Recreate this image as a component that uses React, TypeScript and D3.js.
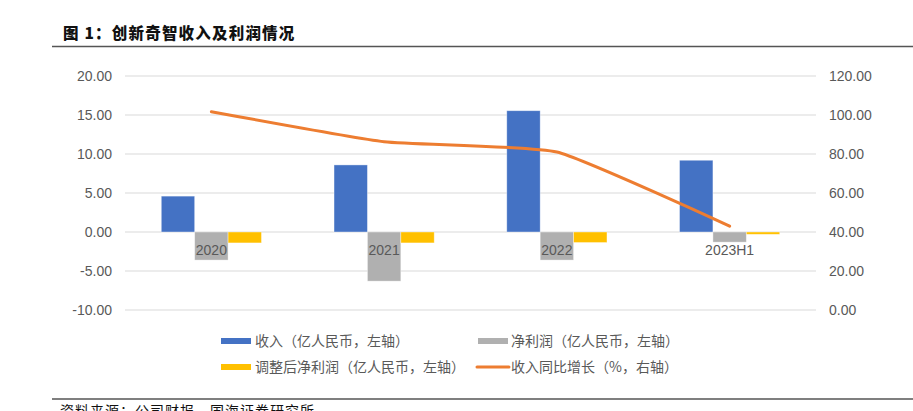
import React from "react";
import * as d3 from "d3";

// categories and values
const categories = ["2020", "2021", "2022", "2023H1"];
const revenue = [4.6, 8.6, 15.55, 9.2]; // 收入（亿人民币，左轴）
const netProfit = [-3.6, -6.3, -3.6, -1.3]; // 净利润
const adjNetProfit = [-1.4, -1.4, -1.35, -0.3]; // 调整后净利润
const revenueGrowth = [101.7, 86.3, 81, 43]; // 收入同比增长（%，右轴）

const leftTicks = [20, 15, 10, 5, 0, -5, -10];
const rightTicks = [120, 100, 80, 60, 40, 20, 0];

const barSeries = [
  { key: "revenue", values: revenue, color: "#4472C4" },
  { key: "net", values: netProfit, color: "#B0B0B0" },
  { key: "adj", values: adjNetProfit, color: "#FFC000" },
];

const width = 913,
  height = 411;
const plot = { left: 125, right: 816, top: 76, bottom: 310 };

const font = "'Liberation Sans', Arial, 'Noto Sans CJK SC', sans-serif";
const cjk = "'Noto Sans CJK SC', 'Liberation Sans', sans-serif";

const App: React.FC = () => {
  const x0 = d3
    .scaleBand<string>()
    .domain(categories)
    .range([plot.left, plot.right])
    .padding(0);
  const step = x0.bandwidth();
  const x1 = d3
    .scaleBand<string>()
    .domain(barSeries.map((s) => s.key))
    .range([step * 0.21, step * 0.79])
    .padding(0);

  const yL = d3.scaleLinear().domain([-10, 20]).range([plot.bottom, plot.top]);
  const yR = d3.scaleLinear().domain([0, 120]).range([plot.bottom, plot.top]);

  // excel-ish smoothed line, not too loose
  const line = d3
    .line<number>()
    .x((_, i) => x0(categories[i])! + step / 2)
    .y((d) => yR(d))
    .curve(d3.curveCardinal.tension(0.55));

  const labelColor = "#595959";

  return (
    <svg
      width={width}
      height={height}
      style={{ position: "absolute", left: 0, top: 0, background: "#fff" }}
    >
      {/* title */}
      <text
        x={63}
        y={39}
        fontFamily={cjk}
        fontWeight="900"
        fontSize={15.5}
        letterSpacing={1.2}
        fill="#111"
      >
        图 1：创新奇智收入及利润情况
      </text>
      <line x1={52} x2={width} y1={46.5} y2={46.5} stroke="#555" strokeWidth={1.5} />

      {/* gridlines */}
      {leftTicks.map((t) => (
        <line
          key={t}
          x1={plot.left}
          x2={plot.right}
          y1={yL(t)}
          y2={yL(t)}
          stroke="#D9D9D9"
          strokeWidth={1}
        />
      ))}

      {/* left axis labels */}
      {leftTicks.map((t) => (
        <text
          key={t}
          x={112}
          y={yL(t)}
          dy="0.35em"
          textAnchor="end"
          fontFamily={font}
          fontSize={14}
          fill={labelColor}
        >
          {t.toFixed(2)}
        </text>
      ))}

      {/* right axis labels */}
      {rightTicks.map((t) => (
        <text
          key={t}
          x={829}
          y={yR(t)}
          dy="0.35em"
          textAnchor="start"
          fontFamily={font}
          fontSize={14}
          fill={labelColor}
        >
          {t.toFixed(2)}
        </text>
      ))}

      {/* bars */}
      {categories.map((c, i) => (
        <g key={c} transform={`translate(${x0(c)},0)`}>
          {barSeries.map((s) => {
            const v = s.values[i];
            return (
              <rect
                key={s.key}
                x={x1(s.key)}
                y={Math.min(yL(v), yL(0))}
                width={x1.bandwidth()}
                height={Math.abs(yL(v) - yL(0))}
                fill={s.color}
                stroke="#fff"
                strokeOpacity={0.5}
                strokeWidth={0.75}
              />
            );
          })}
        </g>
      ))}

      {/* category labels */}
      {categories.map((c) => (
        <text
          key={c}
          x={x0(c)! + step / 2}
          y={yL(0) + 18}
          dy="0.35em"
          textAnchor="middle"
          fontFamily={font}
          fontSize={14}
          fill={labelColor}
        >
          {c}
        </text>
      ))}

      {/* growth line */}
      <path
        d={line(revenueGrowth)!}
        fill="none"
        stroke="#ED7D31"
        strokeWidth={3}
        strokeLinecap="round"
        strokeLinejoin="round"
      />

      {/* legend */}
      <g fontFamily={cjk} fontSize={14} fill={labelColor}>
        <rect x={221} y={338} width={30} height={6} fill="#4472C4" />
        <text x={255} y={341} dy="0.35em">
          收入（亿人民币，左轴）
        </text>
        <rect x={478} y={338} width={30} height={6} fill="#B0B0B0" />
        <text x={511} y={341} dy="0.35em">
          净利润（亿人民币，左轴）
        </text>
        <rect x={221} y={364} width={30} height={6} fill="#FFC000" />
        <text x={255} y={367} dy="0.35em">
          调整后净利润（亿人民币，左轴）
        </text>
        <line
          x1={477}
          x2={509}
          y1={367}
          y2={367}
          stroke="#ED7D31"
          strokeWidth={3}
          strokeLinecap="round"
        />
        <text x={511} y={367} dy="0.35em">
          收入同比增长（%，右轴）
        </text>
      </g>

      {/* source, cut at the bottom edge like the reference */}
      <line x1={52} x2={width} y1={399} y2={399} stroke="#555" strokeWidth={1.5} />
      <text x={60} y={416} fontFamily={cjk} fontSize={14} letterSpacing={1} fill="#111">
        资料来源：公司财报，国海证券研究所
      </text>
    </svg>
  );
};

export default App;
